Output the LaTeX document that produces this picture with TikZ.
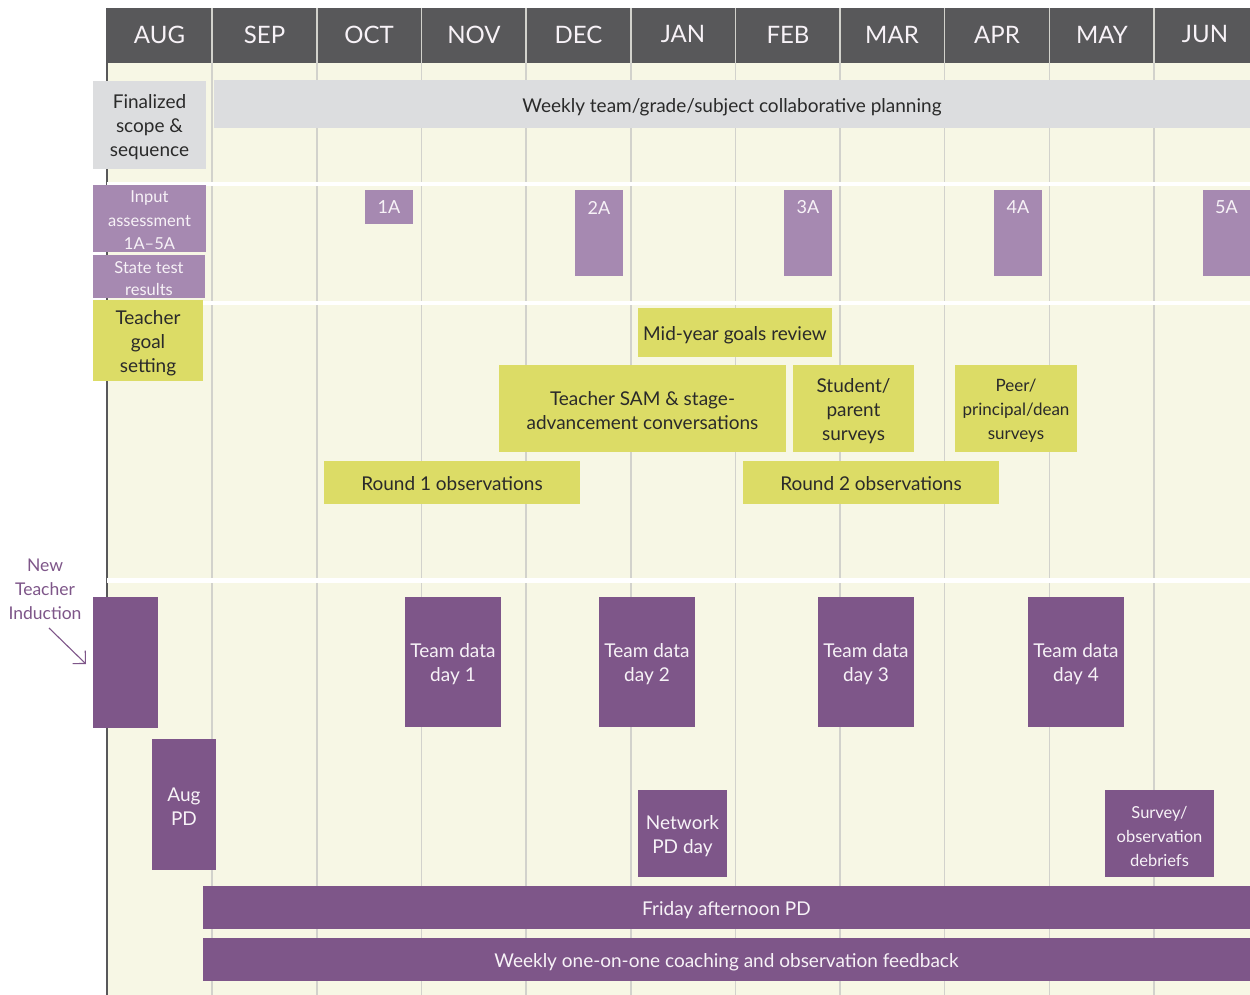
\documentclass[tikz,border=0pt]{standalone}
\usepackage{fontspec}
\setmainfont{Lato}
\usetikzlibrary{arrows.meta}
\definecolor{bgpale}{HTML}{F7F7E5}
\definecolor{hdr}{HTML}{58585A}
\definecolor{gridc}{HTML}{D2D2CC}
\definecolor{lgray}{HTML}{DCDDDF}
\definecolor{lpurp}{HTML}{A689B1}
\definecolor{ygreen}{HTML}{DCDC66}
\definecolor{dpurp}{HTML}{7E5689}
\definecolor{dtext}{HTML}{2A2A2A}
\definecolor{wtext}{HTML}{F7F2F7}
\tikzset{
  every node/.style={inner sep=0pt, outer sep=0pt, align=center},
  boxbase/.style={anchor=north west, draw=none},
  graybox/.style={boxbase, fill=lgray},
  lpbox/.style={boxbase, fill=lpurp},
  ygbox/.style={boxbase, fill=ygreen},
  dpbox/.style={boxbase, fill=dpurp},
  dt/.style={text=dtext, font=\fontsize{19}{24}\selectfont},
  wt/.style={text=wtext, font=\fontsize{19}{24}\selectfont},
  wts/.style={text=wtext, font=\fontsize{16.5}{23.5}\selectfont},
  month/.style={text=wtext, font=\fontsize{24}{26}\selectfont},
  gridline/.style={draw=gridc, line width=1.5pt},
  sep/.style={fill=white, draw=none},
  tagtext/.style={text=wtext, font=\fontsize{18}{20}\selectfont, anchor=center}
}
\begin{document}
\begin{tikzpicture}[x=1pt,y=-1pt]
\useasboundingbox (0,0) rectangle (1250,995);
% background
\fill[white] (0,0) rectangle (1250,995);
\fill[bgpale] (107,63) rectangle (1250,995);
\fill[hdr] (107,8) rectangle (1250,63);
% grid lines
\foreach \gx in {212,317,421.5,526,631,735.5,840,944.5,1049.5,1154}
  \draw[gridline] (\gx,8) -- (\gx,995);
% axis
\draw[hdr, line width=1.5pt] (107,8) -- (107,995);
% separators
\fill[sep] (107,182) rectangle (1250,186);
\fill[sep] (107,301) rectangle (1250,305);
\fill[sep] (107,578) rectangle (1250,583);
% months
\node[month] (maug) at (159.5,34.5) {AUG};
\node[month] (msep) at (264.5,34.5) {SEP};
\node[month] (moct) at (369,34.5) {OCT};
\node[month] (mnov) at (474,34.5) {NOV};
\node[month] (mdec) at (578.5,34.5) {DEC};
\node[month] (mjan) at (683,34.5) {JAN};
\node[month] (mfeb) at (788,34.5) {FEB};
\node[month] (mmar) at (892,34.5) {MAR};
\node[month] (mapr) at (997,34.5) {APR};
\node[month] (mmay) at (1102,34.5) {MAY};
\node[month] (mjun) at (1205,34.5) {JUN};
% row 1
\node[graybox, minimum width=113pt, minimum height=88pt] (fin) at (93,81) {};
\node[dt] (fintx) at ([yshift=-2.5pt]fin.center) {Finalized\\scope \&\\sequence};
\node[graybox, minimum width=1036pt, minimum height=48pt] (wk) at (214,80) {};
\node[dt] (wktx) at ([yshift=-3pt]wk.center) {Weekly team/grade/subject collaborative planning};
% row 2
\node[lpbox, minimum width=113pt, minimum height=67pt] (inp) at (93,185) {};
\node[wts] (inptx) at ([yshift=-2pt]inp.center) {Input\\assessment\\1A–5A};
\node[lpbox, minimum width=112pt, minimum height=43pt] (st) at (93,255) {};
\node[wts, font=\fontsize{16.5}{22}\selectfont] (sttx) at ([yshift=-2pt]st.center) {State test\\results};
\node[lpbox, minimum width=48pt, minimum height=34pt] (a1) at (365,190) {};
\node[lpbox, minimum width=48pt, minimum height=86pt] (a2) at (575,190) {};
\node[lpbox, minimum width=48pt, minimum height=86pt] (a3) at (784,190) {};
\node[lpbox, minimum width=48pt, minimum height=86pt] (a4) at (994,190) {};
\node[lpbox, minimum width=47pt, minimum height=86pt] (a5) at (1203,190) {};
\node[tagtext] (ta1) at ([yshift=-17.5pt]a1.north) {1A};
\node[tagtext] (ta2) at ([yshift=-17.5pt]a2.north) {2A};
\node[tagtext] (ta3) at ([yshift=-17.5pt]a3.north) {3A};
\node[tagtext] (ta4) at ([yshift=-17.5pt]a4.north) {4A};
\node[tagtext] (ta5) at ([yshift=-17.5pt]a5.north) {5A};
% row 3
\node[ygbox, minimum width=110pt, minimum height=81pt] (goal) at (93,300) {};
\node[dt] (goaltx) at ([yshift=-2.5pt]goal.center) {Teacher\\goal\\setting};
\node[ygbox, minimum width=194pt, minimum height=49pt] (mid) at (638,308) {};
\node[dt] (midtx) at ([yshift=-2.5pt]mid.center) {Mid-year goals review};
\node[ygbox, minimum width=287pt, minimum height=87pt] (sam) at (499,365) {};
\node[dt] (samtx) at ([yshift=-2.5pt]sam.center) {Teacher SAM \& stage-\\advancement conversations};
\node[ygbox, minimum width=121pt, minimum height=87pt] (stud) at (793,365) {};
\node[dt] (studtx) at ([yshift=-2.5pt]stud.center) {Student/\\parent\\surveys};
\node[ygbox, minimum width=122pt, minimum height=87pt] (peer) at (955,365) {};
\node[dt, font=\fontsize{17}{24}\selectfont] (peertx) at ([yshift=-2.5pt]peer.center) {Peer/\\principal/dean\\surveys};
\node[ygbox, minimum width=256pt, minimum height=43pt] (r1) at (324,461) {};
\node[dt] (r1tx) at ([yshift=-1.5pt]r1.center) {Round 1 observations};
\node[ygbox, minimum width=256pt, minimum height=43pt] (r2) at (743,461) {};
\node[dt] (r2tx) at ([yshift=-1.5pt]r2.center) {Round 2 observations};
% row 4
\node[dpbox, minimum width=65pt, minimum height=131pt] (ind) at (93,597) {};
\node[dpbox, minimum width=96pt, minimum height=130pt] (t1) at (405,597) {};
\node[wt] (t1tx) at ([yshift=-2.5pt]t1.center) {Team data\\day 1};
\node[dpbox, minimum width=96pt, minimum height=130pt] (t2) at (599,597) {};
\node[wt] (t2tx) at ([yshift=-2.5pt]t2.center) {Team data\\day 2};
\node[dpbox, minimum width=96pt, minimum height=130pt] (t3) at (818,597) {};
\node[wt] (t3tx) at ([yshift=-2.5pt]t3.center) {Team data\\day 3};
\node[dpbox, minimum width=96pt, minimum height=130pt] (t4) at (1028,597) {};
\node[wt] (t4tx) at ([yshift=-2.5pt]t4.center) {Team data\\day 4};
\node[dpbox, minimum width=64pt, minimum height=131pt] (apd) at (152,739) {};
\node[wt] (apdtx) at ([yshift=-2pt]apd.center) {Aug\\PD};
\node[dpbox, minimum width=89pt, minimum height=87pt] (net) at (638,790) {};
\node[wt] (nettx) at ([yshift=-2.5pt]net.center) {Network\\PD day};
\node[dpbox, minimum width=109pt, minimum height=87pt] (surv) at (1105,790) {};
\node[wt, font=\fontsize{16.5}{24}\selectfont] (survtx) at ([yshift=-2.5pt]surv.center) {Survey/\\observation\\debriefs};
\node[dpbox, minimum width=1047pt, minimum height=43pt] (fri) at (203,886) {};
\node[wt] (fritx) at ([yshift=-2.5pt]fri.center) {Friday afternoon PD};
\node[dpbox, minimum width=1047pt, minimum height=43pt] (coach) at (203,938) {};
\node[wt] (coachtx) at ([yshift=-2.5pt]coach.center) {Weekly one-on-one coaching and observation feedback};
% induction label
\node[text=dpurp, font=\fontsize{17.5}{24}\selectfont] (ntl) at (45,589) {New\\Teacher\\Induction};
\coordinate (arrs) at (49,628);
\draw[dpurp, line width=1.1pt, -{Straight Barb[length=9pt,width=18pt,line width=1.1pt]}] (arrs) -- ([xshift=-7pt,yshift=-1.5pt]ind.west);
\end{tikzpicture}
\end{document}
